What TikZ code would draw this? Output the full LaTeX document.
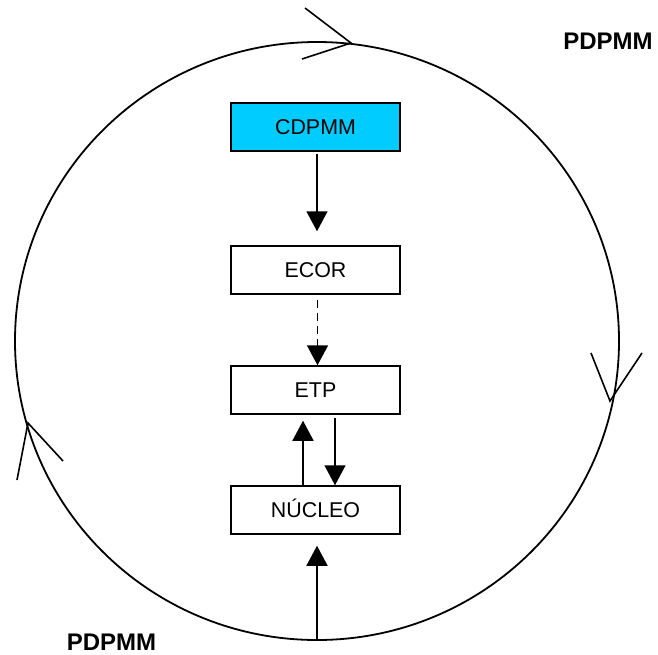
\documentclass[tikz,border=0pt]{standalone}
\usepackage{fontspec}
\setmainfont{Liberation Sans}
\usetikzlibrary{arrows.meta}
\definecolor{boxcyan}{RGB}{0,204,255}
\tikzset{
  box/.style={draw=black, line width=1.5pt, minimum width=169pt, minimum height=48pt,
    inner sep=0pt, text height=15.3pt, text depth=0pt, font=\fontsize{21.4pt}{25pt}\selectfont},
  conn/.style={line width=1.5pt, -{Triangle[length=20pt,width=21pt]}},
  lbl/.style={font=\fontsize{24pt}{28pt}\selectfont\bfseries, anchor=base, inner sep=0pt},
  chev/.style={line width=1.6pt}
}
\begin{document}
\begin{tikzpicture}[x=1pt,y=-1pt]
\useasboundingbox (0,0) rectangle (658,654);
% circle
\draw[line width=1.8pt] (317,341) ellipse [x radius=302, y radius=299];
% chevrons on the circle
\draw[chev] (305,8) -- (351,43) -- (302,59);
\draw[chev] (591,353) -- (610,401) -- (642,353);
\draw[chev] (17,480) -- (28,423) -- (63,461);
% boxes
\node[box, fill=boxcyan] (cd) at (315.5,127) {CDPMM};
\node[box] (ecor) at (315.5,270) {ECOR};
\node[box] (etp) at (315.5,390) {ETP};
\node[box] (nuc) at (315.5,510) {NÚCLEO};
% labels
\node[lbl] (ltr) at (608,49) {PDPMM};
\node[lbl] (lbl2) at (111.5,650) {PDPMM};
% connectors
\draw[conn, shorten <=2pt, shorten >=14pt] ([xshift=1.5pt]cd.south) -- ([xshift=1.5pt]ecor.north);
\draw[conn, line width=1.7pt, dash pattern=on 8pt off 5pt, shorten <=5pt] ([xshift=2pt]ecor.south) -- ([xshift=2pt]etp.north);
\draw[conn, shorten >=6pt] ([xshift=-12.5pt]nuc.north) -- ([xshift=-12.5pt]etp.south);
\draw[conn, shorten <=3pt] ([xshift=19.5pt]etp.south) -- ([xshift=19.5pt]nuc.north);
\coordinate (bot) at (317,640);
\draw[conn, shorten >=11pt] (bot) -- (bot |- nuc.south);
\end{tikzpicture}
\end{document}
